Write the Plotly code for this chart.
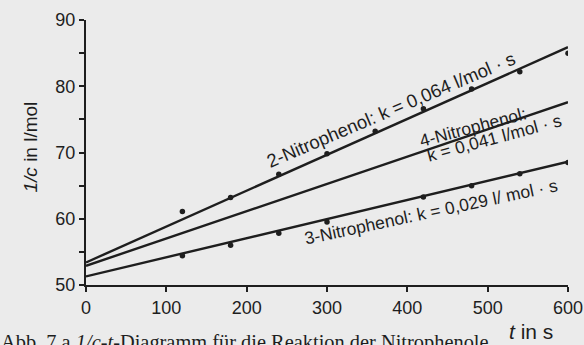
import plotly.graph_objects as go

# Measured data points (t in s, 1/c in l/mol)
t_2np = [120, 180, 240, 300, 360, 420, 480, 540, 600]
y_2np = [61.1, 63.2, 66.7, 69.8, 73.2, 76.6, 79.6, 82.2, 85.0]

t_3np = [120, 180, 240, 300, 420, 480, 540, 600]
y_3np = [54.4, 56.0, 57.8, 59.5, 63.3, 65.0, 66.8, 68.5]

# Regression lines (values at start and end)
t_line = [0, 600]
line_2np = [53.4, 85.9]
line_4np = [52.9, 77.6]
line_3np = [51.3, 68.6]

x_ticks = [0, 100, 200, 300, 400, 500, 600]
y_ticks = [50, 60, 70, 80, 90]

INK = "#1e1e1e"
BG = "#ebebeb"
SANS = "Liberation Sans, Arial, sans-serif"
SERIF = "Liberation Serif, Times New Roman, serif"

fig = go.Figure()
for ys in (line_2np, line_4np, line_3np):
    fig.add_trace(go.Scatter(x=t_line, y=ys, mode="lines",
                             line=dict(color=INK, width=2.4),
                             hoverinfo="skip", showlegend=False))
fig.add_trace(go.Scatter(x=t_2np, y=y_2np, mode="markers",
                         marker=dict(color=INK, size=5.5), showlegend=False))
fig.add_trace(go.Scatter(x=t_3np, y=y_3np, mode="markers",
                         marker=dict(color=INK, size=5.5), showlegend=False))

LBL = dict(family=SANS, size=17.5, color=INK)
annotations = [
    dict(x=380, y=76.5, xref="x", yref="y", text="2-Nitrophenol: k = 0,064 l/mol · s",
         textangle=-23, showarrow=False, font=dict(family=SANS, size=18.5, color=INK)),
    dict(x=482, y=73.9, xref="x", yref="y", text="4-Nitrophenol:",
         textangle=-15, showarrow=False, font=LBL),
    dict(x=508, y=72.2, xref="x", yref="y", text="k = 0,041 l/mol · s",
         textangle=-15, showarrow=False, font=LBL),
    dict(x=429, y=60.95, xref="x", yref="y", text="3-Nitrophenol: k = 0,029 l/ mol · s",
         textangle=-12, showarrow=False, font=LBL),
    dict(x=(17 - 86) / 482, y=(285 - 147) / 265, xref="paper", yref="paper",
         text="<i>1/c</i> in l/mol", textangle=-90, showarrow=False,
         font=dict(family=SANS, size=19, color=INK)),
    dict(x=(555 - 86) / 482, y=(285 - 318) / 265, xref="paper", yref="paper",
         yanchor="top", text="<i>t</i> in s", showarrow=False,
         font=dict(family=SANS, size=21, color=INK)),
    dict(x=(-1 - 86) / 482, y=(285 - 329) / 265, xref="paper", yref="paper",
         xanchor="left", yanchor="top",
         text="Abb. 7 a <i>1/c</i>-<i>t</i>-Diagramm für die Reaktion der Nitrophenole",
         showarrow=False, font=dict(family=SERIF, size=20.4, color=INK)),
]

fig.update_layout(
    width=584, height=345,
    margin=dict(l=86, r=16, t=20, b=60, autoexpand=False),
    paper_bgcolor=BG, plot_bgcolor=BG,
    annotations=annotations,
    xaxis=dict(range=[0, 600], tickvals=x_ticks, showgrid=False, zeroline=False,
               automargin=False,
               showline=True, linecolor=INK, linewidth=2,
               ticks="outside", ticklen=5, tickwidth=2, tickcolor=INK,
               tickfont=dict(family=SANS, size=18, color=INK)),
    yaxis=dict(range=[50, 90], tickvals=y_ticks, showgrid=False, zeroline=False,
               automargin=False,
               showline=True, linecolor=INK, linewidth=2,
               ticks="outside", ticklen=5, tickwidth=2, tickcolor=INK,
               minor=dict(dtick=5, ticks="outside", ticklen=5, tickwidth=2, tickcolor=INK),
               tickfont=dict(family=SANS, size=18, color=INK)),
)

fig.write_html(
    "out.html",
    config={"displayModeBar": False},
    post_script="document.body.style.margin='0';document.body.style.overflow='hidden';",
)
